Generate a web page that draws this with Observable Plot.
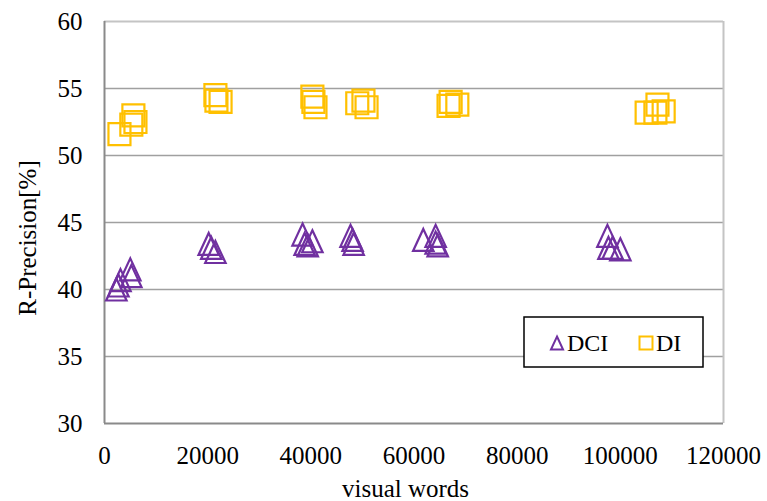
<!DOCTYPE html>
<html><head><meta charset="utf-8">
<script src="https://cdn.jsdelivr.net/npm/d3@7"></script>
<script src="https://cdn.jsdelivr.net/npm/@observablehq/plot@0.6"></script>
<style>body{margin:0;background:#fff}</style>
</head><body><div id="chart"></div>
<script>
// ---- data ----
const seriesNames = ["DCI", "DI"];
const seriesColors = ["#7030A0", "#FFC000"];
const dciX = [2300, 2700, 3100, 5000, 5200, 20200, 20700, 21500, 38400, 38800, 39400, 40300, 47700, 48100, 48300, 61800, 64200, 64200, 64600, 97500, 97700, 98500, 100000];
const dciY = [40.0, 40.3, 40.7, 41.5, 41.0, 43.4, 43.1, 42.8, 44.1, 43.4, 43.3, 43.6, 44.0, 43.7, 43.4, 43.7, 44.0, 43.5, 43.3, 44.0, 43.1, 43.1, 43.0];
const diX = [2900, 5200, 5600, 6000, 21500, 21700, 22500, 40300, 40500, 40900, 49000, 50200, 50800, 66700, 67100, 68400, 105100, 106800, 107200, 108400];
const diY = [51.6, 52.3, 53.0, 52.5, 54.5, 54.1, 54.0, 54.4, 54.0, 53.6, 53.9, 54.1, 53.6, 53.7, 54.0, 53.8, 53.2, 53.2, 53.8, 53.3];
const xTicks = [0, 20000, 40000, 60000, 80000, 100000, 120000];
const yTicks = [30, 35, 40, 45, 50, 55, 60];
const xLabel = "visual words";
const yLabel = "R-Precision[%]";

// ---- marker shapes ----
const triangle = {draw(ctx, size) { const r = Math.sqrt(size / Math.PI); ctx.moveTo(0, -r); ctx.lineTo(r * 0.93, r); ctx.lineTo(-r * 0.93, r); ctx.closePath(); }};
const square = {draw(ctx, size) { const r = Math.sqrt(size / Math.PI); ctx.rect(-r, -r, 2 * r, 2 * r); }};
const symbols = [triangle, square];

const dci = dciX.map((x, i) => ({x, y: dciY[i]}));
const di = diX.map((x, i) => ({x, y: diY[i]}));

const W = 767, H = 501;
const mL = 104, mR = 44, mT = 21, mB = 78;
const xDom = [xTicks[0], xTicks[xTicks.length - 1]];
const yDom = [yTicks[0], yTicks[yTicks.length - 1]];

const plot = Plot.plot({
  width: W, height: H,
  marginLeft: mL, marginRight: mR, marginTop: mT, marginBottom: mB,
  style: {fontFamily: "'Liberation Serif', serif", fontSize: "25px", color: "#000", background: "#fff"},
  x: {domain: xDom, ticks: xTicks, tickFormat: d => String(d), tickSize: 0, tickPadding: 23, label: null},
  y: {domain: yDom, ticks: yTicks, tickSize: 0, tickPadding: 22, label: null},
  marks: [
    Plot.gridY(yTicks.slice(1, -1), {stroke: "#a0a0a0", strokeOpacity: 1, strokeWidth: 1.6}),
    Plot.ruleY([yDom[1]], {stroke: "#c4c4c4", strokeWidth: 2}),
    Plot.ruleX([xDom[1]], {stroke: "#c4c4c4", strokeWidth: 2}),
    Plot.ruleY([yDom[0]], {stroke: "#8a8a8a", strokeWidth: 2}),
    Plot.ruleX([xDom[0]], {stroke: "#8a8a8a", strokeWidth: 2}),
    Plot.dot(dci, {x: "x", y: "y", symbol: triangle, r: 11, stroke: seriesColors[0], strokeWidth: 2.2, fill: "none"}),
    Plot.dot(di, {x: "x", y: "y", symbol: square, r: 11, stroke: seriesColors[1], strokeWidth: 2.2, fill: "none"})
  ]
});

document.getElementById("chart").appendChild(plot);
const svg = d3.select(plot);

// axis titles
svg.append("text").attr("x", (mL + W - mR) / 2 - 8).attr("y", 497)
  .attr("text-anchor", "middle").attr("fill", "#000").attr("font-size", 25).text(xLabel);
svg.append("text").attr("transform", "translate(36,238) rotate(-90)")
  .attr("text-anchor", "middle").attr("fill", "#000").attr("font-size", 25).text(yLabel);

// legend
const lg = svg.append("g");
lg.append("rect").attr("x", 524).attr("y", 317).attr("width", 179).attr("height", 50)
  .attr("fill", "#fff").attr("stroke", "#000").attr("stroke-width", 1.5);
const itemX = [557, 646];
seriesNames.forEach((name, i) => {
  lg.append("path").attr("transform", `translate(${itemX[i]},343)`)
    .attr("d", d3.symbol(symbols[i], Math.PI * 6.5 * 6.5)())
    .attr("fill", "none").attr("stroke", seriesColors[i]).attr("stroke-width", 2);
  lg.append("text").attr("x", itemX[i] + 10).attr("y", 351)
    .attr("text-anchor", "start")
    .attr("fill", "#000").attr("font-size", 24).text(name);
});
</script>
</body></html>
